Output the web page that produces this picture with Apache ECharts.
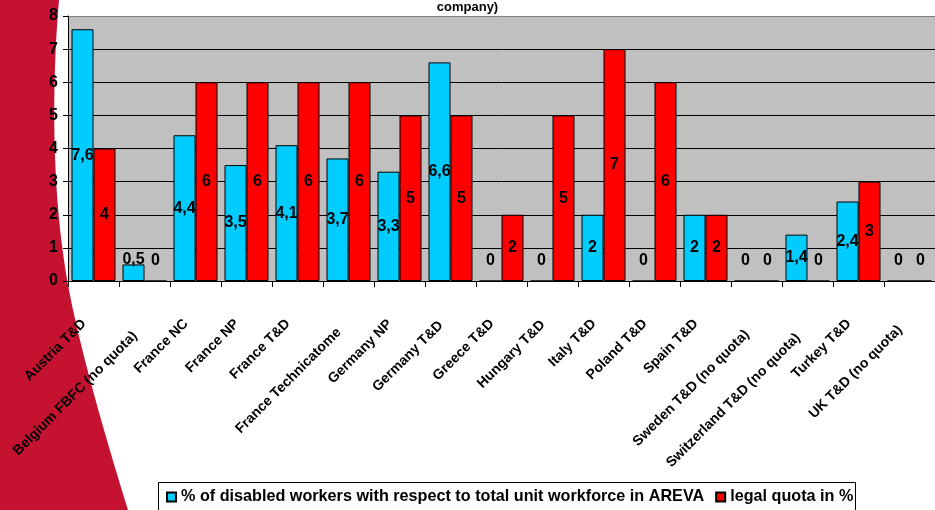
<!DOCTYPE html>
<html>
<head>
<meta charset="utf-8">
<script src="https://cdn.jsdelivr.net/npm/echarts@6/dist/echarts.min.js"></script>
<style>
html,body{margin:0;padding:0;background:#fff;}
#c{width:935px;height:510px;}
</style>
</head>
<body>
<div id="c"></div>
<script>
var categories = ["Austria T&D","Belgium FBFC (no quota)","France NC","France NP","France T&D","France Technicatome","Germany NP","Germany T&D","Greece T&D","Hungary T&D","Italy T&D","Poland T&D","Spain T&D","Sweden T&D (no quota)","Switzerland T&D (no quota)","Turkey T&D","UK T&D (no quota)"];
var disabledShare = [7.6,0.5,4.4,3.5,4.1,3.7,3.3,6.6,0,0,2,0,2,0,1.4,2.4,0];
var legalQuota = [4,0,6,6,6,6,5,5,2,5,7,6,2,0,0,3,0];
var seriesNames = ["% of disabled workers with respect to total unit workforce in AREVA","legal quota in %"];
var titleText = "company)";

var FONT = "'Liberation Sans', Arial, sans-serif";

function items(arr){
  return arr.map(function(v){
    if (v < 1.27) {
      return {value: v, label: {position: 'insideBottom', distance: 13}};
    }
    return v;
  });
}
function fmt(p){ return String(p.value).replace('.', ','); }

// decorative swoosh outline (background decoration, not data)
function cubic(p0,p1,p2,p3,n,out){
  for (var i=1;i<=n;i++){
    var t=i/n, u=1-t;
    out.push([u*u*u*p0[0]+3*u*u*t*p1[0]+3*u*t*t*p2[0]+t*t*t*p3[0],
              u*u*u*p0[1]+3*u*u*t*p1[1]+3*u*t*t*p2[1]+t*t*t*p3[1]]);
  }
}
var swoosh=[[0,0],[59,0]];
cubic([59,0],[52,80],[52,180],[64,260],30,swoosh);
cubic([64,260],[72,320],[100,420],[128,510],30,swoosh);
swoosh.push([0,510]);

// per-label rich styles: longer rotated labels sit slightly lower (as in the original)
var measureCtx = document.createElement('canvas').getContext('2d');
measureCtx.font = "bold 14px " + FONT;
var richStyles = {};
categories.forEach(function(c, i){
  var L = measureCtx.measureText(c).width;
  var D = Math.max(0, 0.14 * (L - 81));
  richStyles['r' + i] = {
    fontFamily: FONT, fontWeight: 'bold', fontSize: 14, color: '#000',
    padding: [1.414 * D, 13.5 + 0.707 * D, 0, 0]
  };
});

var chart = echarts.init(document.getElementById('c'), null, {renderer:'canvas'});
var labelStyle = {show:true, position:'inside', color:'#000', fontFamily:FONT, fontWeight:'bold', fontSize:16, formatter: fmt};

chart.setOption({
  animation:false,
  backgroundColor:'#ffffff',
  title:{text:titleText, left:'center', top:-4, textStyle:{fontFamily:FONT, fontWeight:'bold', fontSize:13, color:'#000'}},
  graphic:[
    {type:'polygon', z:-100, silent:true,
     shape:{points:swoosh},
     style:{fill:'#C41230'}},
    {type:'rect', z:10, silent:true,
     shape:{x:158.5, y:482.5, width:697, height:40},
     style:{fill:'none', stroke:'#000', lineWidth:1}}
  ],
  legend:{
    left:166, top:489, padding:0, itemWidth:9, itemHeight:9, itemGap:11,
    icon:'rect',
    textStyle:{fontFamily:FONT, fontWeight:'bold', fontSize:16.2, color:'#000'},
    data:seriesNames
  },
  grid:{left:68, top:16, width:879, height:265, show:true, backgroundColor:'#C0C0C0', borderWidth:0, containLabel:false},
  xAxis:{
    type:'category', data:categories,
    axisLine:{show:true, lineStyle:{color:'#000', width:1}},
    axisTick:{show:true, length:6, lineStyle:{color:'#000'}},
    axisLabel:{interval:0, rotate:45, margin:31, color:'#000', fontFamily:FONT, fontWeight:'bold', fontSize:14,
      formatter:function(v, i){ return '{r' + i + '|' + v + '}'; }, rich:richStyles},
    splitLine:{show:false}
  },
  yAxis:{
    type:'value', min:0, max:8, interval:1,
    axisLine:{show:true, lineStyle:{color:'#000', width:1}},
    axisTick:{show:true, length:5, lineStyle:{color:'#000'}},
    axisLabel:{margin:10, color:'#000', fontFamily:FONT, fontWeight:'bold', fontSize:16},
    splitLine:{show:true, lineStyle:{color:['#000','#000','#000','#000','#000','#000','#000','#000','#808080'], width:1}}
  },
  series:[
    {name:seriesNames[0], type:'bar', data:items(disabledShare), barWidth:22, barGap:'0%',
     itemStyle:{color:'#00CCFF', borderColor:'#000', borderWidth:1}, label:labelStyle},
    {name:seriesNames[1], type:'bar', data:items(legalQuota), barWidth:22, barGap:'0%',
     itemStyle:{color:'#FF0000', borderColor:'#000', borderWidth:1}, label:labelStyle}
  ]
});
</script>
</body>
</html>
